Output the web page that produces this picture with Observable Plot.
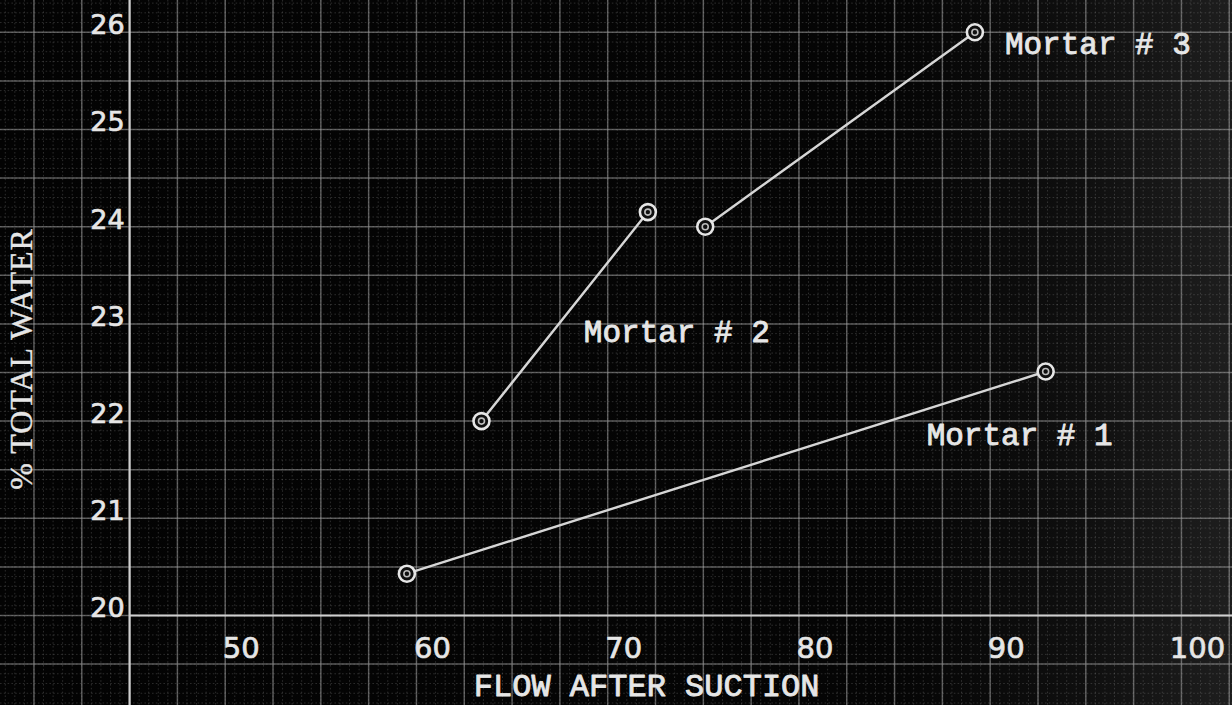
<!DOCTYPE html>
<html>
<head>
<meta charset="utf-8">
<script src="https://cdn.jsdelivr.net/npm/d3@7"></script>
<script src="https://cdn.jsdelivr.net/npm/@observablehq/plot@0.6"></script>
<style>
  html, body { margin: 0; padding: 0; background: #050505; }
  #chart svg { display: block; }
  #chart svg .ytitle text { letter-spacing: 1px; }
</style>
</head>
<body>
<div id="chart"></div>
<script>
// Flow after suction vs. % total water for three mortars
const series = ["Mortar # 1", "Mortar # 2", "Mortar # 3"];
const mortar1Flow = [59.5, 92.9];
const mortar1Water = [20.43, 22.51];
const mortar2Flow = [63.4, 72.1];
const mortar2Water = [22.0, 24.15];
const mortar3Flow = [75.1, 89.2];
const mortar3Water = [24.0, 26.0];

const xTicks = [50, 60, 70, 80, 90, 100];
const yTicks = [20, 21, 22, 23, 24, 25, 26];
const xTitle = "FLOW AFTER SUCTION";
const yTitle = "% TOTAL WATER";

const flows = [mortar1Flow, mortar2Flow, mortar3Flow];
const waters = [mortar1Water, mortar2Water, mortar3Water];
const points = series.flatMap((name, i) =>
  flows[i].map((f, j) => ({series: name, flow: f, water: waters[i][j]}))
);
const lastPoint = name => points.filter(d => d.series === name).at(-1);

// graph-paper rulings
const xFine = d3.range(38.5, 103, 0.5);
const yFine = d3.range(19.1, 26.4, 0.1);
const xMedium = d3.range(40, 103, 2.5);
const yMedium = d3.range(19.5, 26.4, 0.5);

const ink = "#e6e6e6";
const mono = "'Liberation Mono', 'DejaVu Sans Mono', monospace";
const hand = "'DejaVu Sans', sans-serif";

const chart = Plot.plot({
  width: 1232,
  height: 705,
  margin: 0,
  x: {domain: [38.25, 102.67], axis: null},
  y: {domain: [19.074, 26.327], axis: null},
  style: {
    background: "linear-gradient(to right, #030303 0%, #050505 72%, #0f0f0f 88%, #1e1e1e 100%)",
    color: ink
  },
  marks: [
    Plot.ruleX(xFine, {stroke: "#8a8a8a", strokeOpacity: 0.3, strokeWidth: 1, strokeDasharray: "1.6,2.2"}),
    Plot.ruleY(yFine, {stroke: "#8a8a8a", strokeOpacity: 0.3, strokeWidth: 1, strokeDasharray: "1.6,2.2"}),
    Plot.ruleX(xMedium, {stroke: "#9c9c9c", strokeOpacity: 0.55, strokeWidth: 1.5}),
    Plot.ruleY(yMedium, {stroke: "#9c9c9c", strokeOpacity: 0.55, strokeWidth: 1.5}),
    // axes
    Plot.ruleX([45], {stroke: "#cfcfcf", strokeWidth: 2.2}),
    Plot.ruleY([20], {x1: 45, x2: 102.67, stroke: "#cfcfcf", strokeWidth: 2.2}),
    // tick labels
    Plot.text(xTicks, {
      x: d => d, y: 20, text: d => String(d),
      textAnchor: "middle", dx: 16, dy: 22, lineAnchor: "top",
      fontFamily: hand, fontSize: 29, fill: ink, stroke: ink, strokeWidth: 0.7
    }),
    Plot.text(yTicks, {
      x: 45, y: d => d, text: d => String(d),
      textAnchor: "end", dx: -5, dy: 2, lineAnchor: "bottom",
      fontFamily: hand, fontSize: 27, fill: ink, stroke: ink, strokeWidth: 0.7
    }),
    // axis titles
    Plot.text([xTitle], {
      x: 63.0, y: 20, text: d => d, textAnchor: "start", dy: 70,
      fontFamily: mono, fontSize: 32, fill: ink, stroke: ink, strokeWidth: 0.9
    }),
    Plot.text([yTitle], {
      frameAnchor: "left", text: d => d, rotate: -90, textAnchor: "middle",
      dx: 21, dy: 6, className: "ytitle",
      fontFamily: "'Liberation Serif', serif", fontSize: 32, fill: ink,
      stroke: ink, strokeWidth: 0.4
    }),
    // series
    Plot.line(points, {
      x: "flow", y: "water", z: "series",
      stroke: "#d6d6d6", strokeWidth: 2.4, strokeLinecap: "round"
    }),
    Plot.dot(points, {
      x: "flow", y: "water", r: 8,
      fill: "#101010", stroke: "#e6e6e6", strokeWidth: 2.6
    }),
    Plot.dot(points, {
      x: "flow", y: "water", r: 3,
      fill: "none", stroke: "#bdbdbd", strokeWidth: 1.6
    }),
    // series labels, placed relative to each series' last point
    Plot.text([lastPoint("Mortar # 3")], {
      x: "flow", y: "water", text: "series",
      textAnchor: "start", dx: 30, dy: 12,
      fontFamily: mono, fontSize: 31, fill: ink, stroke: ink, strokeWidth: 0.9
    }),
    Plot.text([lastPoint("Mortar # 2")], {
      x: "flow", y: "water", text: "series",
      textAnchor: "middle", dx: 29, dy: 120,
      fontFamily: mono, fontSize: 31, fill: ink, stroke: ink, strokeWidth: 0.9
    }),
    Plot.text([lastPoint("Mortar # 1")], {
      x: "flow", y: "water", text: "series",
      textAnchor: "middle", dx: -26, dy: 64,
      fontFamily: mono, fontSize: 31, fill: ink, stroke: ink, strokeWidth: 0.9
    })
  ]
});

document.getElementById("chart").append(chart);
</script>
</body>
</html>
